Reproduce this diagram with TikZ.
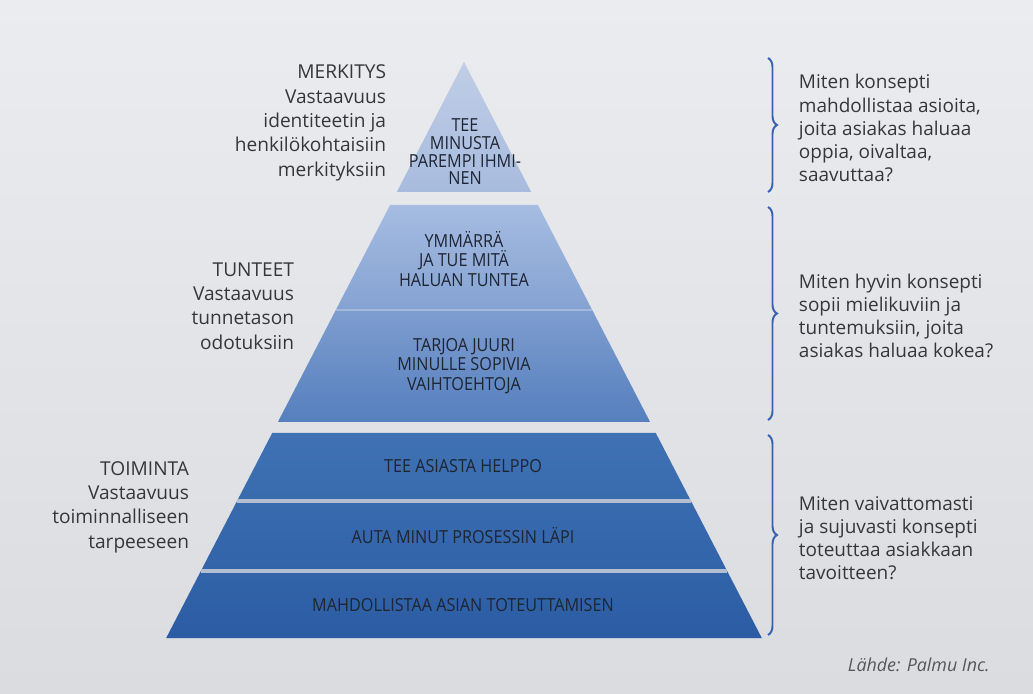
\documentclass[tikz,border=0pt]{standalone}
\usepackage{fontspec}
\setmainfont{Open Sans}
\newfontfamily\tiivis[FakeStretch=0.9]{Open Sans}
\usetikzlibrary{positioning}
\usetikzlibrary{decorations.pathreplacing}

\definecolor{taustaY}{HTML}{EBECEF}
\definecolor{taustaA}{HTML}{DADCE0}
\definecolor{teksti}{HTML}{1E2533}
\definecolor{harmaa}{HTML}{36373A}
\definecolor{lahdeharmaa}{HTML}{55575B}
\definecolor{sininen}{HTML}{3A62B0}
\definecolor{erotin}{HTML}{B3BFD0}
\definecolor{erotinV}{HTML}{A3B9DC}
\definecolor{huippuY}{HTML}{C0CDE6}
\definecolor{huippuA}{HTML}{A7BBDE}
\definecolor{keskiY}{HTML}{A6BCE1}
\definecolor{keskiA}{HTML}{84A2D2}
\definecolor{keski2Y}{HTML}{7E9DCF}
\definecolor{keski2A}{HTML}{557FBE}
\definecolor{alaY}{HTML}{3F71B4}
\definecolor{alaA}{HTML}{2C5DA4}

\begin{document}
\begin{tikzpicture}[x=0.025cm,y=-0.025cm,
taso/.style={font=\tiivis\fontsize{12.8}{14}\selectfont,text=teksti,align=center},
selite/.style={font=\fontsize{13.6}{17.3}\selectfont,text=harmaa,align=right,anchor=east},
kysymys/.style={font=\fontsize{13.5}{16.4}\selectfont,text=harmaa,align=left,anchor=west},
sulje/.style={draw=sininen,line width=1.4pt,decorate,decoration={brace,amplitude=6.4pt}},
viiva/.style={draw=erotin,line width=2.8pt}
]
\useasboundingbox (0,0) rectangle (1033,694);
\shade[top color=taustaY,bottom color=taustaA] (0,0) rectangle (1033,694);
%-- pyramidi
\shade[top color=huippuY,bottom color=huippuA] (464,62) -- (531.2,192) -- (396.8,192) -- cycle;
\shade[top color=keskiY,bottom color=keskiA] (390.1,205) -- (537.9,205) -- (592.2,310) -- (335.8,310) -- cycle;
\shade[top color=keski2Y,bottom color=keski2A] (335.8,310) -- (592.2,310) -- (650.1,422) -- (277.9,422) -- cycle;
\shade[top color=alaY,bottom color=alaA] (272.2,433) -- (655.8,433) -- (761.8,638) -- (166.2,638) -- cycle;
\draw[viiva,draw=erotinV,line width=1.4pt] (335.8,310) -- (592.2,310);
\draw[viiva] (237.1,501) -- (690.9,501);
\draw[viiva] (200.9,571) -- (727.1,571);
%--
\node[taso,font=\tiivis\fontsize{12.8}{12.6}\selectfont] (tee) at (465,152) {TEE\\MINUSTA\\PAREMPI IHMI-\\NEN};
\node[taso] (ymm) at (464,259) {YMMÄRRÄ\\JA TUE MITÄ\\HALUAN TUNTEA};
\node[taso] (tarjoa) at (464,366) {TARJOA JUURI\\MINULLE SOPIVIA\\VAIHTOEHTOJA};
\node[taso] (helppo) at (463,466) {TEE ASIASTA HELPPO};
\node[taso] (auta) at (463,536) {AUTA MINUT PROSESSIN LÄPI};
\node[taso] (mahd) at (463,605) {MAHDOLLISTAA ASIAN TOTEUTTAMISEN};
%-- selitteet
\node[selite] (merk) at (391,123) {MERKITYS\\Vastaavuus\\identiteetin ja\\henkilökohtaisiin\\merkityksiin};
\node[selite] (tunt) at (299,306) {TUNTEET\\Vastaavuus\\tunnetason\\odotuksiin};
\node[selite] (toim) at (194,507) {TOIMINTA\\Vastaavuus\\toiminnalliseen\\tarpeeseen};
%-- sulkeet
\coordinate (s1a) at (768,58); \coordinate (s1b) at (768,192);
\coordinate (s2a) at (768,207); \coordinate (s2b) at (768,420);
\coordinate (s3a) at (768,435); \coordinate (s3b) at (768,635);
\draw[sulje] (s1a) -- (s1b);
\draw[sulje] (s2a) -- (s2b);
\draw[sulje] (s3a) -- (s3b);
%-- kysymykset
\node[kysymys] (k1) at (794,128) {Miten konsepti\\mahdollistaa asioita,\\joita asiakas haluaa\\oppia, oivaltaa,\\saavuttaa?};
\node[kysymys] (k2) at (794,316) {Miten hyvin konsepti\\sopii mielikuviin ja\\tuntemuksiin, joita\\asiakas haluaa kokea?};
\node[kysymys] (k3) at (794,538) {Miten vaivattomasti\\ja sujuvasti konsepti\\toteuttaa asiakkaan\\tavoitteen?};
%--
\node[anchor=west,font=\fontsize{12.7}{15}\selectfont\itshape,text=lahdeharmaa] (lahde) at (843,665) {Lähde: Palmu Inc.};
\end{tikzpicture}
\end{document}
